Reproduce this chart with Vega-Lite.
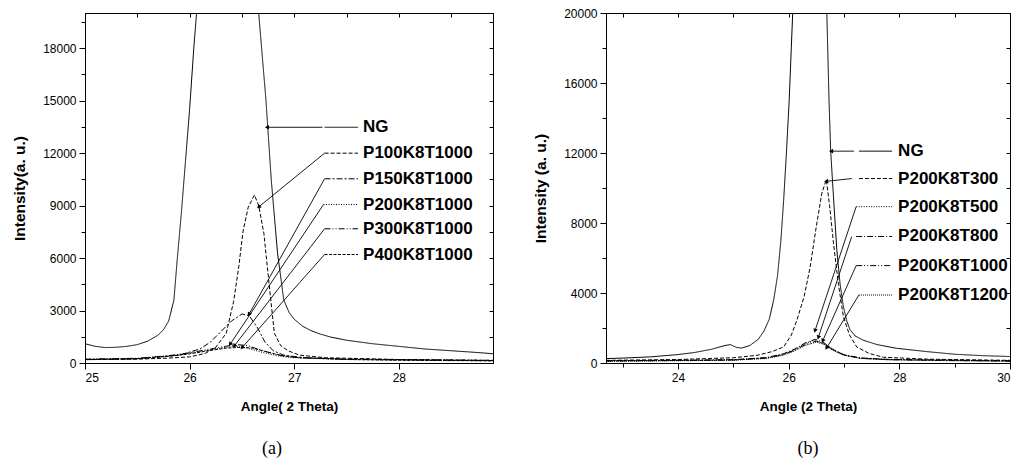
{
  "$schema": "https://vega.github.io/schema/vega-lite/v6.json",
  "padding": {"left": 12, "top": 6, "right": 0, "bottom": 0},
  "background": "white",
  "bounds": "flush",
  "spacing": 113,
  "config": {
    "view": {"stroke": "black", "strokeWidth": 1},
    "axis": {"domainColor": "black", "tickColor": "black", "labelColor": "black", "titleColor": "black", "grid": false, "labelFont": "Liberation Sans", "labelFontSize": 12, "titleFont": "Liberation Sans", "titleFontWeight": "bold", "titleFontSize": 13.5, "labelPadding": 3},
    "axisLeft": {"titleFontSize": 15.5},
    "title": {"font": "Liberation Serif", "fontSize": 18, "fontWeight": "normal", "color": "black"}
  },
  "resolve": {"scale": {"strokeDash": "independent"}},
  "datasets": {
    "a": [
      {"s":"NG","x":25.0,"y":1100},{"s":"NG","x":25.1,"y":950},{"s":"NG","x":25.2,"y":880},{"s":"NG","x":25.3,"y":900},{"s":"NG","x":25.4,"y":950},{"s":"NG","x":25.5,"y":1050},{"s":"NG","x":25.6,"y":1250},{"s":"NG","x":25.7,"y":1600},{"s":"NG","x":25.75,"y":1900},{"s":"NG","x":25.8,"y":2400},{"s":"NG","x":25.85,"y":3600},{"s":"NG","x":25.88,"y":5800},{"s":"NG","x":25.92,"y":8500},{"s":"NG","x":25.96,"y":11500},{"s":"NG","x":26.0,"y":14500},{"s":"NG","x":26.04,"y":18000},{"s":"NG","x":26.08,"y":21000},{"s":"NG","x":26.15,"y":30000},{"s":"NG","x":26.3,"y":40000},{"s":"NG","x":26.45,"y":38000},{"s":"NG","x":26.6,"y":25000},{"s":"NG","x":26.66,"y":20000},{"s":"NG","x":26.73,"y":15000},{"s":"NG","x":26.78,"y":10500},{"s":"NG","x":26.84,"y":6300},{"s":"NG","x":26.9,"y":3600},{"s":"NG","x":26.95,"y":2900},{"s":"NG","x":27.0,"y":2500},{"s":"NG","x":27.08,"y":2100},{"s":"NG","x":27.16,"y":1850},{"s":"NG","x":27.25,"y":1650},{"s":"NG","x":27.35,"y":1480},{"s":"NG","x":27.5,"y":1300},{"s":"NG","x":27.75,"y":1100},{"s":"NG","x":28.0,"y":950},{"s":"NG","x":28.25,"y":800},{"s":"NG","x":28.5,"y":700},{"s":"NG","x":28.75,"y":600},{"s":"NG","x":28.9,"y":530},
      {"s":"P100K8T1000","x":25.0,"y":200},{"s":"P100K8T1000","x":25.5,"y":220},{"s":"P100K8T1000","x":25.8,"y":280},{"s":"P100K8T1000","x":26.0,"y":350},{"s":"P100K8T1000","x":26.15,"y":550},{"s":"P100K8T1000","x":26.25,"y":900},{"s":"P100K8T1000","x":26.35,"y":1700},{"s":"P100K8T1000","x":26.42,"y":3500},{"s":"P100K8T1000","x":26.47,"y":5500},{"s":"P100K8T1000","x":26.51,"y":7500},{"s":"P100K8T1000","x":26.56,"y":8900},{"s":"P100K8T1000","x":26.62,"y":9600},{"s":"P100K8T1000","x":26.66,"y":9000},{"s":"P100K8T1000","x":26.71,"y":7400},{"s":"P100K8T1000","x":26.76,"y":4500},{"s":"P100K8T1000","x":26.81,"y":1700},{"s":"P100K8T1000","x":26.87,"y":1000},{"s":"P100K8T1000","x":26.94,"y":700},{"s":"P100K8T1000","x":27.05,"y":450},{"s":"P100K8T1000","x":27.3,"y":300},{"s":"P100K8T1000","x":28.0,"y":200},{"s":"P100K8T1000","x":28.9,"y":150},
      {"s":"P150K8T1000","x":25.0,"y":200},{"s":"P150K8T1000","x":25.5,"y":250},{"s":"P150K8T1000","x":25.9,"y":450},{"s":"P150K8T1000","x":26.1,"y":800},{"s":"P150K8T1000","x":26.2,"y":1200},{"s":"P150K8T1000","x":26.3,"y":1800},{"s":"P150K8T1000","x":26.4,"y":2400},{"s":"P150K8T1000","x":26.5,"y":2800},{"s":"P150K8T1000","x":26.57,"y":2700},{"s":"P150K8T1000","x":26.65,"y":2000},{"s":"P150K8T1000","x":26.72,"y":1200},{"s":"P150K8T1000","x":26.8,"y":700},{"s":"P150K8T1000","x":26.9,"y":450},{"s":"P150K8T1000","x":27.1,"y":300},{"s":"P150K8T1000","x":27.5,"y":220},{"s":"P150K8T1000","x":28.9,"y":150},
      {"s":"P200K8T1000","x":25.0,"y":180},{"s":"P200K8T1000","x":25.5,"y":250},{"s":"P200K8T1000","x":25.8,"y":400},{"s":"P200K8T1000","x":26.0,"y":550},{"s":"P200K8T1000","x":26.2,"y":750},{"s":"P200K8T1000","x":26.35,"y":900},{"s":"P200K8T1000","x":26.45,"y":950},{"s":"P200K8T1000","x":26.55,"y":850},{"s":"P200K8T1000","x":26.7,"y":600},{"s":"P200K8T1000","x":26.85,"y":400},{"s":"P200K8T1000","x":27.0,"y":300},{"s":"P200K8T1000","x":27.5,"y":200},{"s":"P200K8T1000","x":28.0,"y":170},{"s":"P200K8T1000","x":28.9,"y":130},
      {"s":"P300K8T1000","x":25.0,"y":220},{"s":"P300K8T1000","x":25.5,"y":270},{"s":"P300K8T1000","x":25.8,"y":420},{"s":"P300K8T1000","x":26.0,"y":580},{"s":"P300K8T1000","x":26.2,"y":800},{"s":"P300K8T1000","x":26.35,"y":960},{"s":"P300K8T1000","x":26.45,"y":1050},{"s":"P300K8T1000","x":26.55,"y":1000},{"s":"P300K8T1000","x":26.7,"y":700},{"s":"P300K8T1000","x":26.85,"y":450},{"s":"P300K8T1000","x":27.0,"y":320},{"s":"P300K8T1000","x":27.5,"y":220},{"s":"P300K8T1000","x":28.0,"y":180},{"s":"P300K8T1000","x":28.9,"y":140},
      {"s":"P400K8T1000","x":25.0,"y":200},{"s":"P400K8T1000","x":25.5,"y":240},{"s":"P400K8T1000","x":25.8,"y":380},{"s":"P400K8T1000","x":26.0,"y":520},{"s":"P400K8T1000","x":26.2,"y":720},{"s":"P400K8T1000","x":26.35,"y":850},{"s":"P400K8T1000","x":26.5,"y":900},{"s":"P400K8T1000","x":26.6,"y":850},{"s":"P400K8T1000","x":26.75,"y":620},{"s":"P400K8T1000","x":26.9,"y":400},{"s":"P400K8T1000","x":27.05,"y":300},{"s":"P400K8T1000","x":27.5,"y":200},{"s":"P400K8T1000","x":28.0,"y":160},{"s":"P400K8T1000","x":28.9,"y":120}
    ],
    "annA": [
      {"s":"NG","lx1":27.29,"lx2":27.61,"ly":13470,"ax":27.27,"tx":26.745,"ty":13470},
      {"s":"P100K8T1000","lx1":27.29,"lx2":27.61,"ly":11990,"ax":27.29,"tx":26.665,"ty":8940},
      {"s":"P150K8T1000","lx1":27.29,"lx2":27.61,"ly":10526,"ax":27.29,"tx":26.57,"ty":2810},
      {"s":"P200K8T1000","lx1":27.28,"lx2":27.61,"ly":9057,"ax":27.28,"tx":26.39,"ty":1097},
      {"s":"P300K8T1000","lx1":27.29,"lx2":27.61,"ly":7669,"ax":27.29,"tx":26.43,"ty":1000},
      {"s":"P400K8T1000","lx1":27.29,"lx2":27.61,"ly":6200,"ax":27.29,"tx":26.505,"ty":903}
    ],
    "b": [
      {"s":"NG","x":22.7,"y":250},{"s":"NG","x":23.0,"y":280},{"s":"NG","x":23.5,"y":350},{"s":"NG","x":24.0,"y":480},{"s":"NG","x":24.3,"y":600},{"s":"NG","x":24.6,"y":780},{"s":"NG","x":24.85,"y":1000},{"s":"NG","x":24.95,"y":1050},{"s":"NG","x":25.05,"y":900},{"s":"NG","x":25.15,"y":850},{"s":"NG","x":25.3,"y":1000},{"s":"NG","x":25.45,"y":1350},{"s":"NG","x":25.55,"y":1800},{"s":"NG","x":25.65,"y":2500},{"s":"NG","x":25.73,"y":3600},{"s":"NG","x":25.8,"y":5000},{"s":"NG","x":25.86,"y":7000},{"s":"NG","x":25.91,"y":9300},{"s":"NG","x":25.96,"y":12000},{"s":"NG","x":26.01,"y":15000},{"s":"NG","x":26.08,"y":20500},{"s":"NG","x":26.2,"y":35000},{"s":"NG","x":26.4,"y":45000},{"s":"NG","x":26.6,"y":30000},{"s":"NG","x":26.69,"y":20000},{"s":"NG","x":26.73,"y":15000},{"s":"NG","x":26.76,"y":12100},{"s":"NG","x":26.82,"y":9000},{"s":"NG","x":26.87,"y":6500},{"s":"NG","x":26.93,"y":4500},{"s":"NG","x":26.99,"y":3200},{"s":"NG","x":27.05,"y":2400},{"s":"NG","x":27.11,"y":1900},{"s":"NG","x":27.2,"y":1550},{"s":"NG","x":27.35,"y":1300},{"s":"NG","x":27.6,"y":1050},{"s":"NG","x":27.95,"y":840},{"s":"NG","x":28.5,"y":650},{"s":"NG","x":29.0,"y":500},{"s":"NG","x":29.5,"y":420},{"s":"NG","x":30.0,"y":370},
      {"s":"P200K8T300","x":22.7,"y":150},{"s":"P200K8T300","x":24.0,"y":200},{"s":"P200K8T300","x":25.0,"y":300},{"s":"P200K8T300","x":25.43,"y":440},{"s":"P200K8T300","x":25.7,"y":650},{"s":"P200K8T300","x":25.91,"y":920},{"s":"P200K8T300","x":26.05,"y":1600},{"s":"P200K8T300","x":26.15,"y":2450},{"s":"P200K8T300","x":26.28,"y":3800},{"s":"P200K8T300","x":26.39,"y":5500},{"s":"P200K8T300","x":26.5,"y":7800},{"s":"P200K8T300","x":26.6,"y":9700},{"s":"P200K8T300","x":26.68,"y":10480},{"s":"P200K8T300","x":26.74,"y":9000},{"s":"P200K8T300","x":26.81,"y":6870},{"s":"P200K8T300","x":26.9,"y":4500},{"s":"P200K8T300","x":26.99,"y":2640},{"s":"P200K8T300","x":27.1,"y":1600},{"s":"P200K8T300","x":27.23,"y":920},{"s":"P200K8T300","x":27.45,"y":550},{"s":"P200K8T300","x":27.71,"y":330},{"s":"P200K8T300","x":28.5,"y":220},{"s":"P200K8T300","x":30.0,"y":150},
      {"s":"P200K8T500","x":22.7,"y":120},{"s":"P200K8T500","x":24.0,"y":150},{"s":"P200K8T500","x":25.0,"y":180},{"s":"P200K8T500","x":25.6,"y":300},{"s":"P200K8T500","x":25.9,"y":500},{"s":"P200K8T500","x":26.1,"y":750},{"s":"P200K8T500","x":26.3,"y":1100},{"s":"P200K8T500","x":26.45,"y":1300},{"s":"P200K8T500","x":26.6,"y":1150},{"s":"P200K8T500","x":26.8,"y":750},{"s":"P200K8T500","x":27.0,"y":450},{"s":"P200K8T500","x":27.3,"y":280},{"s":"P200K8T500","x":27.8,"y":200},{"s":"P200K8T500","x":29.0,"y":150},{"s":"P200K8T500","x":30.0,"y":120},
      {"s":"P200K8T800","x":22.7,"y":130},{"s":"P200K8T800","x":24.0,"y":160},{"s":"P200K8T800","x":25.0,"y":190},{"s":"P200K8T800","x":25.6,"y":310},{"s":"P200K8T800","x":25.9,"y":520},{"s":"P200K8T800","x":26.1,"y":780},{"s":"P200K8T800","x":26.3,"y":1150},{"s":"P200K8T800","x":26.48,"y":1350},{"s":"P200K8T800","x":26.62,"y":1200},{"s":"P200K8T800","x":26.8,"y":780},{"s":"P200K8T800","x":27.0,"y":470},{"s":"P200K8T800","x":27.3,"y":290},{"s":"P200K8T800","x":27.8,"y":210},{"s":"P200K8T800","x":29.0,"y":160},{"s":"P200K8T800","x":30.0,"y":130},
      {"s":"P200K8T1000","x":22.7,"y":110},{"s":"P200K8T1000","x":24.0,"y":140},{"s":"P200K8T1000","x":25.0,"y":170},{"s":"P200K8T1000","x":25.6,"y":280},{"s":"P200K8T1000","x":25.9,"y":470},{"s":"P200K8T1000","x":26.1,"y":720},{"s":"P200K8T1000","x":26.3,"y":1050},{"s":"P200K8T1000","x":26.5,"y":1250},{"s":"P200K8T1000","x":26.65,"y":1100},{"s":"P200K8T1000","x":26.8,"y":760},{"s":"P200K8T1000","x":27.0,"y":460},{"s":"P200K8T1000","x":27.3,"y":270},{"s":"P200K8T1000","x":27.8,"y":190},{"s":"P200K8T1000","x":29.0,"y":140},{"s":"P200K8T1000","x":30.0,"y":110},
      {"s":"P200K8T1200","x":22.7,"y":100},{"s":"P200K8T1200","x":24.0,"y":130},{"s":"P200K8T1200","x":25.0,"y":160},{"s":"P200K8T1200","x":25.6,"y":260},{"s":"P200K8T1200","x":25.9,"y":440},{"s":"P200K8T1200","x":26.1,"y":680},{"s":"P200K8T1200","x":26.3,"y":1000},{"s":"P200K8T1200","x":26.5,"y":1200},{"s":"P200K8T1200","x":26.65,"y":1050},{"s":"P200K8T1200","x":26.8,"y":720},{"s":"P200K8T1200","x":27.0,"y":440},{"s":"P200K8T1200","x":27.3,"y":260},{"s":"P200K8T1200","x":27.8,"y":180},{"s":"P200K8T1200","x":29.0,"y":130},{"s":"P200K8T1200","x":30.0,"y":100}
    ],
    "annB": [
      {"s":"NG","lx1":27.27,"lx2":27.87,"ly":12106,"ax":27.18,"tx":26.78,"ty":12106},
      {"s":"P200K8T300","lx1":27.27,"lx2":27.87,"ly":10540,"ax":27.14,"tx":26.69,"ty":10384},
      {"s":"P200K8T500","lx1":27.22,"lx2":27.87,"ly":8933,"ax":27.22,"tx":26.48,"ty":1876},
      {"s":"P200K8T800","lx1":27.22,"lx2":27.87,"ly":7229,"ax":27.14,"tx":26.54,"ty":1492},
      {"s":"P200K8T1000","lx1":27.22,"lx2":27.87,"ly":5565,"ax":27.22,"tx":26.62,"ty":1302},
      {"s":"P200K8T1200","lx1":27.27,"lx2":27.87,"ly":3884,"ax":27.27,"tx":26.69,"ty":883}
    ]
  },
  "hconcat": [
    {
      "width": 408,
      "height": 350,
      "title": {"text": "(a)", "orient": "bottom", "offset": 27, "dx": -17},
      "resolve": {"axis": {"x": "independent", "y": "independent"}},
      "layer": [
        {
          "data": {"name": "a"},
          "mark": {"type": "line", "color": "black", "strokeWidth": 1, "clip": true},
          "encoding": {
            "x": {"field": "x", "type": "quantitative", "scale": {"domain": [25, 28.9], "nice": false, "zero": false},
              "axis": {"title": "Angle( 2 Theta)", "values": [25,25.5,26,26.5,27,27.5,28,28.5], "format": "d", "labelExpr": "datum.value % 1 === 0 ? datum.label : ''", "tickSize": {"condition": {"test": "datum.value % 1 === 0", "value": 6}, "value": 4}, "titlePadding": 16}},
            "y": {"field": "y", "type": "quantitative", "scale": {"domain": [0, 20000], "nice": false},
              "axis": {"title": "Intensity(a. u.)", "values": [0,1500,3000,4500,6000,7500,9000,10500,12000,13500,15000,16500,18000,19500], "format": "d", "labelExpr": "datum.value % 3000 === 0 ? datum.label : ''", "tickSize": {"condition": {"test": "datum.value % 3000 === 0", "value": 6}, "value": 4}, "titlePadding": 15}},
            "strokeDash": {"field": "s", "type": "nominal", "legend": null,
              "scale": {"domain": ["NG","P100K8T1000","P150K8T1000","P200K8T1000","P300K8T1000","P400K8T1000"], "range": [[1,0],[4,2],[6,2,2,2],[1,1.5],[6,2,1,2,1,2],[3,1.5]]}}
          }
        },
        {
          "data": {"name": "annA"},
          "mark": {"type": "rule", "color": "black", "strokeWidth": 1},
          "encoding": {
            "x": {"field": "lx1", "type": "quantitative", "axis": {"orient": "top", "title": null, "labels": false, "values": [25,25.5,26,26.5,27,27.5,28,28.5], "tickSize": -4}},
            "x2": {"field": "lx2"},
            "y": {"field": "ly", "type": "quantitative", "axis": {"orient": "right", "title": null, "labels": false, "values": [0,1500,3000,4500,6000,7500,9000,10500,12000,13500,15000,16500,18000,19500], "tickSize": -4}},
            "strokeDash": {"field": "s", "type": "nominal", "legend": null}
          }
        },
        {
          "data": {"name": "annA"},
          "mark": {"type": "rule", "color": "black", "strokeWidth": 0.9},
          "encoding": {
            "x": {"field": "ax", "type": "quantitative", "axis": null},
            "x2": {"field": "tx"},
            "y": {"field": "ly", "type": "quantitative", "axis": null},
            "y2": {"field": "ty"}
          }
        },
        {
          "data": {"name": "annA"},
          "transform": [{"calculate": "atan2((datum.tx - datum.ax) * 104.6, (datum.ty - datum.ly) * 0.0175) * 180 / PI", "as": "ang"}],
          "mark": {"type": "point", "shape": "triangle", "filled": true, "color": "black", "size": 22, "opacity": 1},
          "encoding": {
            "x": {"field": "tx", "type": "quantitative", "axis": null},
            "y": {"field": "ty", "type": "quantitative", "axis": null},
            "angle": {"field": "ang", "type": "quantitative", "scale": null}
          }
        },
        {
          "data": {"name": "annA"},
          "mark": {"type": "text", "align": "left", "baseline": "middle", "dx": 5, "font": "Liberation Sans", "fontWeight": "bold", "fontSize": 17, "color": "black", "letterSpacing": -0.6},
          "encoding": {
            "x": {"field": "lx2", "type": "quantitative", "axis": null},
            "y": {"field": "ly", "type": "quantitative", "axis": null},
            "text": {"field": "s"}
          }
        }
      ]
    },
    {
      "width": 404,
      "height": 350,
      "title": {"text": "(b)", "orient": "bottom", "offset": 27},
      "resolve": {"axis": {"x": "independent", "y": "independent"}},
      "layer": [
        {
          "data": {"name": "b"},
          "mark": {"type": "line", "color": "black", "strokeWidth": 1, "clip": true},
          "encoding": {
            "x": {"field": "x", "type": "quantitative", "scale": {"domain": [22.7, 30], "nice": false, "zero": false},
              "axis": {"title": "Angle (2 Theta)", "values": [23,24,25,26,27,28,29,30], "format": "d", "labelExpr": "datum.value % 2 === 0 ? datum.label : ''", "tickSize": {"condition": {"test": "datum.value % 2 === 0", "value": 6}, "value": 4}, "titlePadding": 16}},
            "y": {"field": "y", "type": "quantitative", "scale": {"domain": [0, 20000], "nice": false},
              "axis": {"title": "Intensity (a. u.)", "values": [0,2000,4000,6000,8000,10000,12000,14000,16000,18000,20000], "format": "d", "labelExpr": "datum.value % 4000 === 0 ? datum.label : ''", "tickSize": {"condition": {"test": "datum.value % 4000 === 0", "value": 6}, "value": 4}, "titlePadding": 15}},
            "strokeDash": {"field": "s", "type": "nominal", "legend": null,
              "scale": {"domain": ["NG","P200K8T300","P200K8T500","P200K8T800","P200K8T1000","P200K8T1200"], "range": [[1,0],[4,2],[1,1.5],[6,2,1,2],[6,2,1,2,1,2],[1,1]]}}
          }
        },
        {
          "data": {"name": "annB"},
          "mark": {"type": "rule", "color": "black", "strokeWidth": 1},
          "encoding": {
            "x": {"field": "lx1", "type": "quantitative", "axis": {"orient": "top", "title": null, "labels": false, "values": [23,24,25,26,27,28,29,30], "tickSize": -4}},
            "x2": {"field": "lx2"},
            "y": {"field": "ly", "type": "quantitative", "axis": {"orient": "right", "title": null, "labels": false, "values": [0,2000,4000,6000,8000,10000,12000,14000,16000,18000,20000], "tickSize": -4}},
            "strokeDash": {"field": "s", "type": "nominal", "legend": null}
          }
        },
        {
          "data": {"name": "annB"},
          "mark": {"type": "rule", "color": "black", "strokeWidth": 0.9},
          "encoding": {
            "x": {"field": "ax", "type": "quantitative", "axis": null},
            "x2": {"field": "tx"},
            "y": {"field": "ly", "type": "quantitative", "axis": null},
            "y2": {"field": "ty"}
          }
        },
        {
          "data": {"name": "annB"},
          "transform": [{"calculate": "atan2((datum.tx - datum.ax) * 55.34, (datum.ty - datum.ly) * 0.0175) * 180 / PI", "as": "ang"}],
          "mark": {"type": "point", "shape": "triangle", "filled": true, "color": "black", "size": 22, "opacity": 1},
          "encoding": {
            "x": {"field": "tx", "type": "quantitative", "axis": null},
            "y": {"field": "ty", "type": "quantitative", "axis": null},
            "angle": {"field": "ang", "type": "quantitative", "scale": null}
          }
        },
        {
          "data": {"name": "annB"},
          "mark": {"type": "text", "align": "left", "baseline": "middle", "dx": 6, "font": "Liberation Sans", "fontWeight": "bold", "fontSize": 17, "color": "black", "letterSpacing": -0.6},
          "encoding": {
            "x": {"field": "lx2", "type": "quantitative", "axis": null},
            "y": {"field": "ly", "type": "quantitative", "axis": null},
            "text": {"field": "s"}
          }
        }
      ]
    }
  ]
}
